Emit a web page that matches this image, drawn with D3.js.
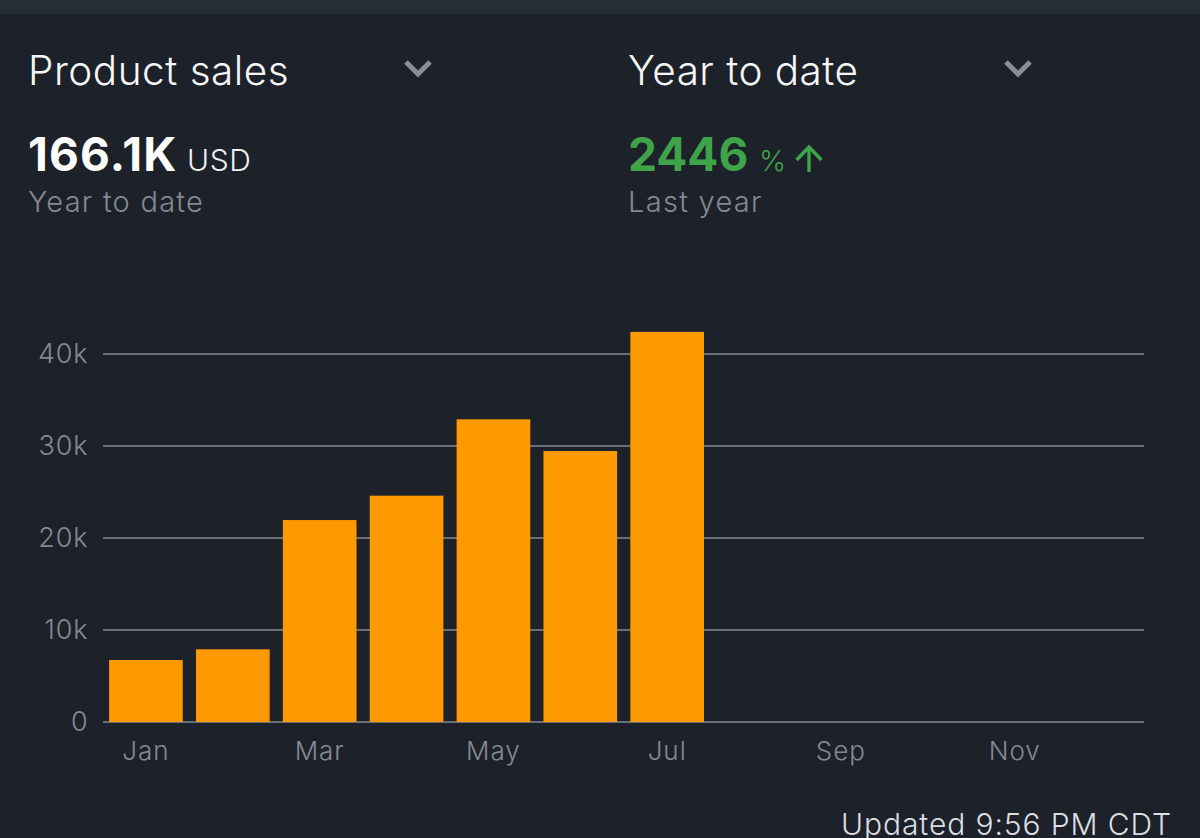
<!DOCTYPE html>
<html><head><meta charset="utf-8">
<script src="https://cdn.jsdelivr.net/npm/d3@7"></script>
<style>
html,body{margin:0;padding:0;background:#1d2129;overflow:hidden}
svg{display:block}
text{font-family:Inter,Roboto,sans-serif}
</style></head><body>
<svg id="c" width="1200" height="838"></svg>
<script>
const months = ["Jan","Feb","Mar","Apr","May","Jun","Jul","Aug","Sep","Oct","Nov","Dec"];
const sales = [6740,7900,21950,24600,32900,29450,42400,0,0,0,0,0];
const yTicks = [0,10000,20000,30000,40000];
const xTicks = ["Jan","Mar","May","Jul","Sep","Nov"];

const svg = d3.select("#c");
svg.append("rect").attr("width",1200).attr("height",838).attr("fill","#1d2129");
svg.append("rect").attr("width",1200).attr("height",14).attr("fill","#272d36");

const x = d3.scaleBand().domain(months).range([102.5,1145]).paddingInner(0.152).paddingOuter(0.076);
const y = d3.scaleLinear().domain([0,40000]).range([722,354]);

function t(xp,yp,s,size,fill,weight,ls){
  return svg.append("text").attr("x",xp).attr("y",yp).text(s)
    .attr("font-size",size).attr("fill",fill).attr("font-weight",weight||400)
    .attr("letter-spacing",ls||0);
}
t(28,85,"Product sales",40.5,"#f5f6f7",300,0.5);
t(628,85,"Year to date",40.5,"#f5f6f7",300,0.45);
t(28,171,"166.1K",46,"#ffffff",700,1.2);
t(187,171,"USD",30,"#f0f1f3",300,0.6);
t(28,212,"Year to date",29,"#858992",300,1.25);
t(628,171,"2446",46,"#3fa34a",700,0);
t(759,171,"%",29,"#3fa34a",300,0);
t(628,212,"Last year",29,"#858992",300,1.3);

const chev = d3.line();
[[418],[1018]].forEach(([cx])=>{
  svg.append("path").attr("d",chev([[cx-12,62],[cx,74],[cx+12,62]]))
    .attr("fill","none").attr("stroke","#8a8d94").attr("stroke-width",5);
});
svg.append("path").attr("d",d3.line()([[809,172],[809,147]])).attr("stroke","#3fa34a").attr("stroke-width",3.4).attr("fill","none");
svg.append("path").attr("d",d3.line()([[796.5,160],[809,147],[821.5,160]])).attr("stroke","#3fa34a").attr("stroke-width",3.4).attr("fill","none");

const yAxis = d3.axisLeft(y).tickValues(yTicks).tickSize(0).tickPadding(14)
  .tickFormat(d=>d===0?"0":(d/1000)+"k");
const yg = svg.append("g").attr("transform","translate(102.5,0)").call(yAxis);
yg.select(".domain").remove();
yg.selectAll("text").attr("font-size",27).attr("font-weight",300).attr("fill","#858992").attr("letter-spacing",0.9).attr("font-family","Inter,Roboto,sans-serif");

svg.append("g").selectAll("line").data(yTicks).join("line")
  .attr("x1",103).attr("x2",1144).attr("y1",d=>y(d)).attr("y2",d=>y(d))
  .attr("stroke","#85888f").attr("stroke-width",1.5);

svg.append("g").selectAll("rect").data(months.map((m,i)=>({m,v:sales[i]})).filter(d=>d.v>0)).join("rect")
  .attr("x",d=>x(d.m)).attr("width",x.bandwidth())
  .attr("y",d=>y(d.v)).attr("height",d=>y(0)-y(d.v)).attr("fill","#ff9900");

const xAxis = d3.axisBottom(x).tickValues(xTicks).tickSize(0).tickPadding(0);
const xg = svg.append("g").attr("transform","translate(0,722)").call(xAxis);
xg.select(".domain").remove();
xg.selectAll("text").attr("dy",0).attr("y",38).attr("font-size",26).attr("font-weight",300).attr("fill","#858992").attr("letter-spacing",1).attr("font-family","Inter,Roboto,sans-serif");

t(841,835,"Updated 9:56 PM CDT",30,"#dcdee1",300,0.9);
</script>
</body></html>
